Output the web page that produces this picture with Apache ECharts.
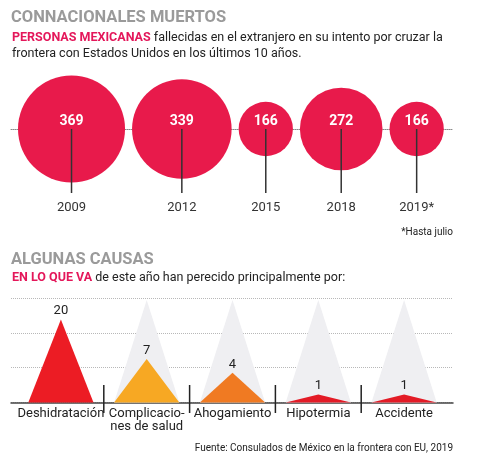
<!DOCTYPE html>
<html>
<head>
<meta charset="utf-8">
<script src="https://cdn.jsdelivr.net/npm/echarts@6/dist/echarts.min.js"></script>
<style>
html,body{margin:0;padding:0;background:#fff;}
#c{width:480px;height:471px;}
</style>
</head>
<body>
<div id="c"></div>
<script>
// ---- Data ----
var years = ['2009', '2012', '2015', '2018', '2019*'];
var deaths = [369, 339, 166, 272, 166];
var causes = ['Deshidratación', 'Complicacio-\nnes de salud', 'Ahogamiento', 'Hipotermia', 'Accidente'];
var causeValues = [20, 7, 4, 1, 1];

// ---- Styles ----
var FONT = 'Roboto';
var bubbleColor = '#e81a4b';
var accent = '#e4175a';
var causeColors = ['#ec1c24', '#f7a823', '#f07a22', '#e31b26', '#e31b26'];

// bubble diameter from value (scale)
function bubbleSize(v) { return 0.704 * Math.pow(v, 0.85); }
// packed layout along the line: positions derived from sizes
var GAP = 7, START = 7;
var bubbleData = [];
(function () {
  var x = START;
  for (var i = 0; i < deaths.length; i++) {
    var d = bubbleSize(deaths[i]);
    bubbleData.push([x + d / 2, 0, deaths[i], years[i]]);
    x += d + GAP;
  }
})();

// triangle height scale (non-linear, in axis units)
var UNIT = 34.8;
function triScale(v) { return (21.6 * Math.sqrt(v) - 13.6) / UNIT; }
var maxCause = Math.max.apply(null, causeValues);
var triData = causeValues.map(function (v, i) { return [i, v]; });

var chart = echarts.init(document.getElementById('c'), null, {renderer: 'canvas'});
chart.setOption({
  backgroundColor: '#fff',
  animation: false,
  title: [
    {text: 'CONNACIONALES MUERTOS', left: 11, top: 9, padding: 0,
     textStyle: {fontFamily: FONT, fontSize: 16.5, fontWeight: 'bold', color: '#9a9a9a', lineHeight: 18}},
    {text: '{b|PERSONAS MEXICANAS} fallecidas en el extranjero en su intento por cruzar la\nfrontera con Estados Unidos en los últimos 10 años.',
     left: 12, top: 30, padding: 0,
     textStyle: {fontFamily: FONT, fontSize: 12.5, color: '#222', lineHeight: 16, fontWeight: 'normal',
       rich: {b: {fontFamily: FONT, fontSize: 12.5, fontWeight: 'bold', color: accent, lineHeight: 16}}}},
    {text: '*Hasta julio', right: 27, top: 226, padding: 0,
     textStyle: {fontFamily: FONT, fontSize: 10, color: '#222', fontWeight: 'normal', lineHeight: 12}},
    {text: 'ALGUNAS CAUSAS', left: 11, top: 251, padding: 0,
     textStyle: {fontFamily: FONT, fontSize: 16.5, fontWeight: 'bold', color: '#9a9a9a', lineHeight: 18}},
    {text: '{b|EN LO QUE VA} de este año han perecido principalmente por:', left: 12, top: 270, padding: 0,
     textStyle: {fontFamily: FONT, fontSize: 12.5, color: '#222', lineHeight: 16, fontWeight: 'normal',
       rich: {b: {fontFamily: FONT, fontSize: 12.5, fontWeight: 'bold', color: accent, lineHeight: 16}}}},
    {text: 'Fuente: Consulados de México en la frontera con EU, 2019', right: 27, top: 442, padding: 0,
     textStyle: {fontFamily: FONT, fontSize: 10, color: '#222', fontWeight: 'normal', lineHeight: 12}}
  ],
  grid: [
    {left: 11, width: 441, top: 109, height: 40},
    {left: 11, width: 442, top: 298, height: 104.5},
    {left: 18, width: 429, top: 298, height: 104.5}
  ],
  xAxis: [
    {gridIndex: 0, type: 'value', min: 0, max: 441,
     axisLine: {show: true, onZero: true, lineStyle: {color: '#8a8a8a', width: 1, type: [1, 1]}},
     axisTick: {show: false}, axisLabel: {show: false}, splitLine: {show: false}},
    {gridIndex: 1, type: 'value', min: 0, max: 1,
     axisLine: {show: true, lineStyle: {color: '#444', width: 1.5}},
     axisTick: {show: false}, axisLabel: {show: false}, splitLine: {show: false}},
    {gridIndex: 2, type: 'category', data: causes,
     axisLine: {show: false}, axisTick: {show: false}, splitLine: {show: false},
     axisLabel: {show: true, interval: 0, margin: 5, fontFamily: FONT, fontSize: 13, color: '#222', lineHeight: 13}}
  ],
  yAxis: [
    {gridIndex: 0, type: 'value', min: -1, max: 1, show: false},
    {gridIndex: 1, type: 'value', min: 0, max: 3, interval: 1,
     axisLine: {show: false}, axisTick: {show: false}, axisLabel: {show: false},
     splitLine: {show: true, lineStyle: {color: '#b8b8b8', width: 1, type: [1, 1]}}},
    {gridIndex: 2, type: 'value', min: 0, max: 3, show: false}
  ],
  series: [
    {
      type: 'custom', xAxisIndex: 0, yAxisIndex: 0, data: bubbleData, z: 3,
      renderItem: function (params, api) {
        var p = api.coord([api.value(0), api.value(1)]);
        var v = api.value(2);
        var r = bubbleSize(v) / 2;
        var yr = bubbleData[params.dataIndex][3];
        return {type: 'group', children: [
          {type: 'circle', shape: {cx: p[0], cy: p[1], r: r}, style: {fill: bubbleColor}},
          {type: 'line', shape: {x1: p[0], y1: p[1], x2: p[0], y2: p[1] + 64},
           style: {stroke: '#333', lineWidth: 1.5}},
          {type: 'text', x: p[0], y: p[1] - 8,
           style: {text: String(v), fill: '#fff', font: 'bold 14px ' + FONT, align: 'center', verticalAlign: 'middle'}},
          {type: 'text', x: p[0], y: p[1] + 79,
           style: {text: yr, fill: '#333', font: '13px ' + FONT, align: 'center', verticalAlign: 'middle'}}
        ]};
      }
    },
    {
      type: 'custom', xAxisIndex: 2, yAxisIndex: 2, data: triData, z: 3,
      renderItem: function (params, api) {
        var i = api.value(0), v = api.value(1);
        var base = api.coord([i, 0]);
        var band = api.size([1, 0])[0];
        var half = band * 0.38;
        var top = api.coord([i, triScale(v)]);
        var grayTop = api.coord([i, 2.94]);
        var children = [];
        if (v < maxCause) {
          children.push({type: 'polygon', shape: {points: [[base[0] - half, base[1]], [base[0], grayTop[1]], [base[0] + half, base[1]]]},
            style: {fill: '#efeff2'}});
        }
        children.push({type: 'polygon', shape: {points: [[base[0] - half, base[1]], [base[0], top[1]], [base[0] + half, base[1]]]},
          style: {fill: causeColors[i]}});
        children.push({type: 'text', x: base[0], y: top[1] - 2,
          style: {text: String(v), fill: '#222', font: '13px ' + FONT, align: 'center', verticalAlign: 'bottom'}});
        if (i > 0) {
          var bx = base[0] - band / 2;
          children.push({type: 'line', shape: {x1: bx, y1: base[1] - 17.5, x2: bx, y2: base[1] + 10.5},
            style: {stroke: '#222', lineWidth: 1.5}});
        }
        return {type: 'group', children: children};
      }
    }
  ]
});
</script>
</body>
</html>
